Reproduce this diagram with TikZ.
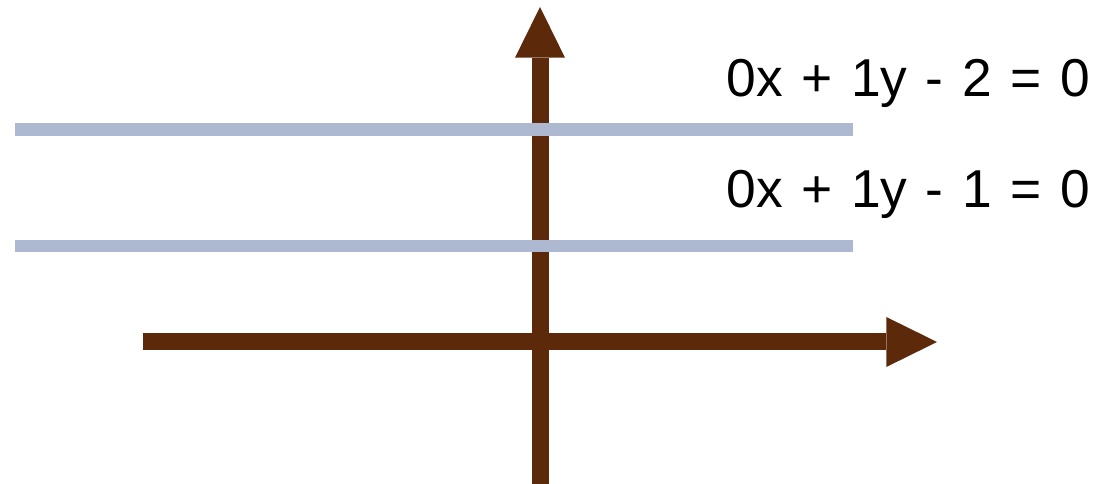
\documentclass[tikz,border=0pt]{standalone}
\usepackage{fontspec}
\setmainfont{Liberation Sans}[WordSpace=1.25]
\usetikzlibrary{arrows.meta}
\definecolor{axisbrown}{HTML}{5C2A0B}
\definecolor{lineblue}{HTML}{ADB8D1}
\begin{document}
\begin{tikzpicture}[
    x=0.75pt, y=-0.75pt,
    axis/.style={draw=axisbrown, line width=12.75pt, -{Triangle[width=37.5pt, length=38pt, line width=0pt]}},
    hline/.style={draw=lineblue, line width=9.3pt},
    eq/.style={anchor=base east, inner sep=0pt, font=\fontsize{40}{48}\selectfont},
]
\useasboundingbox (0,0) rectangle (1097,484);

\coordinate (xstart) at (143,342);
\coordinate (xend) at (937,342);
\coordinate (ystart) at (540,484);
\coordinate (yend) at (540,7);
\coordinate (twoleft) at (15,129.5);
\coordinate (tworight) at (853,129.5);
\coordinate (oneleft) at (15,246);
\coordinate (oneright) at (853,246);

\draw[axis] (xstart) -- (xend);
\draw[axis] (ystart) -- (yend);

\draw[hline] (twoleft) -- (tworight);
\draw[hline] (oneleft) -- (oneright);

\node[eq] (eqtwo) at (1090,97) {0x + 1y - 2 = 0};
\node[eq] (eqone) at (1090,208) {0x + 1y - 1 = 0};

\end{tikzpicture}
\end{document}
